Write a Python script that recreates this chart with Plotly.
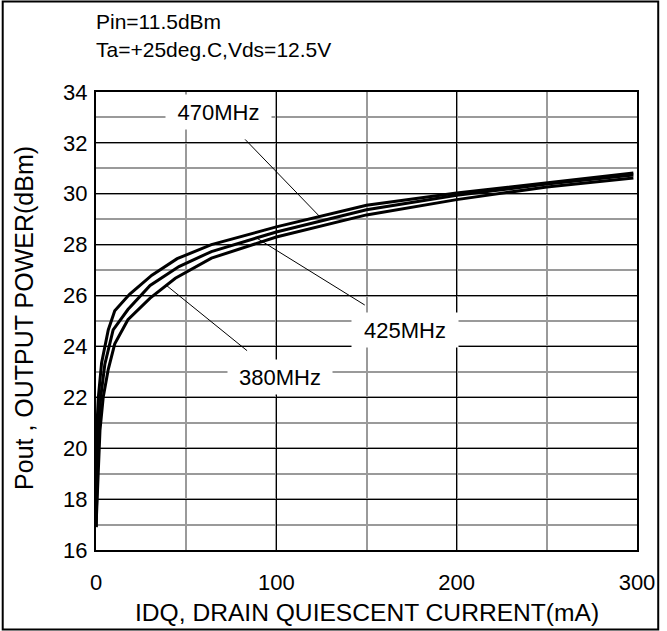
import numpy as np
import plotly.graph_objects as go

# IDQ (mA) sample points and output power (dBm) for each frequency
idq_470 = [0, 0.4, 1.3, 3.1, 6.8, 10.4, 18.6, 31, 45, 64, 100, 150, 200, 250, 298]
pout_470 = [16.9, 20.7, 22.0, 23.35, 24.65, 25.4, 26.05, 26.8, 27.45, 28.0, 28.7, 29.55, 30.03, 30.44, 30.82]

idq_425 = [0, 1.3, 2.6, 4.9, 9.5, 17.7, 30, 46, 64, 100, 150, 200, 250, 298]
pout_425 = [16.9, 20.7, 22.0, 23.3, 24.65, 25.45, 26.4, 27.14, 27.73, 28.5, 29.37, 29.94, 30.38, 30.74]

idq_380 = [0, 2.2, 4.0, 6.8, 10.4, 17.7, 30, 44, 64, 100, 150, 200, 250, 298]
pout_380 = [16.9, 20.7, 22.0, 23.1, 24.1, 25.05, 25.9, 26.68, 27.47, 28.3, 29.17, 29.77, 30.27, 30.62]

series_names = ["470MHz", "425MHz", "380MHz"]
x_ticks = [0, 100, 200, 300]
y_ticks = [16, 18, 20, 22, 24, 26, 28, 30, 32, 34]

FONT = "Liberation Sans, Arial, sans-serif"

fig = go.Figure()
for xs, ys, nm in [(idq_470, pout_470, series_names[0]),
                   (idq_425, pout_425, series_names[1]),
                   (idq_380, pout_380, series_names[2])]:
    fig.add_trace(go.Scatter(x=xs, y=ys, mode="lines", name=nm,
                             line=dict(color="black", width=3),
                             showlegend=False, hoverinfo="x+y"))

# curve labels with leader lines (label position, target idq on the curve)
labels = [
    (series_names[0], 67.9, 33.22, 124, idq_470, pout_470, 105),
    (series_names[1], 171.3, 24.65, 89, idq_425, pout_425, 106),
    (series_names[2], 101.8, 22.8, 39, idq_380, pout_380, 104),
]
for txt, lx, ly, tx, xs, ys, w in labels:
    ty = float(np.interp(tx, xs, ys))
    fig.add_annotation(x=tx, y=ty, ax=lx, ay=ly, axref="x", ayref="y", xref="x", yref="y",
                       text=txt, showarrow=True, arrowhead=0, arrowwidth=1, arrowcolor="black",
                       startstandoff=14,
                       font=dict(family=FONT, size=22, color="black"),
                       bgcolor="white", width=w, height=34, borderpad=0)

# condition text
fig.add_annotation(x=(94 - 96) / 548, y=(550 - 21) / 458, xref="paper", yref="paper",
                   text="Pin=11.5dBm", showarrow=False, xanchor="left", yanchor="middle",
                   font=dict(family=FONT, size=21, color="black"))
fig.add_annotation(x=(94 - 96) / 548, y=(550 - 50) / 458, xref="paper", yref="paper",
                   text="Ta=+25deg.C,Vds=12.5V", showarrow=False, xanchor="left", yanchor="middle",
                   font=dict(family=FONT, size=21, color="black"))

# axis titles
fig.add_annotation(x=(371 - 96) / 548, y=-(612 - 550) / 458, xref="paper", yref="paper",
                   text="IDQ, DRAIN QUIESCENT CURRENT(mA)", showarrow=False,
                   xanchor="center", yanchor="middle",
                   font=dict(family=FONT, size=24.6, color="black"))
fig.add_annotation(x=-(96 - 23) / 548, y=(550 - 318) / 458, xref="paper", yref="paper",
                   text="Pout , OUTPUT POWER(dBm)", showarrow=False, textangle=-90,
                   xanchor="center", yanchor="middle",
                   font=dict(family=FONT, size=25, color="black"))

# outer frame
fig.add_shape(type="rect", xref="paper", yref="paper",
              x0=(1.5 - 96) / 548, x1=(665.5 - 96) / 548,
              y0=(550 - 629.5) / 458, y1=(550 - 1.5) / 458,
              line=dict(color="black", width=2), layer="above")

fig.update_layout(
    width=667, height=631,
    margin=dict(l=96, r=23, t=92, b=81),
    paper_bgcolor="white", plot_bgcolor="white",
    font=dict(family=FONT, size=22, color="black"),
    xaxis=dict(range=[0, 300], tickvals=x_ticks, ticktext=[str(v) for v in x_ticks],
               showgrid=True, gridcolor="black", gridwidth=1,
               minor=dict(dtick=50, showgrid=True, gridcolor="#9a9a9a", gridwidth=1.5),
               showline=True, mirror=True, linecolor="black", linewidth=2,
               ticks="", ticklabelstandoff=12, zeroline=False,
               tickfont=dict(family=FONT, size=22)),
    yaxis=dict(range=[16, 34], tickvals=y_ticks, ticktext=[str(v) for v in y_ticks],
               showgrid=True, gridcolor="black", gridwidth=1,
               minor=dict(dtick=1, showgrid=True, gridcolor="#9a9a9a", gridwidth=1.5),
               showline=True, mirror=True, linecolor="black", linewidth=2,
               ticks="", ticklabelstandoff=2, zeroline=False,
               tickfont=dict(family=FONT, size=22)),
)

fig.write_html("out.html", config={"displayModeBar": False},
               post_script="document.body.style.margin='0';document.body.style.overflow='hidden';")
